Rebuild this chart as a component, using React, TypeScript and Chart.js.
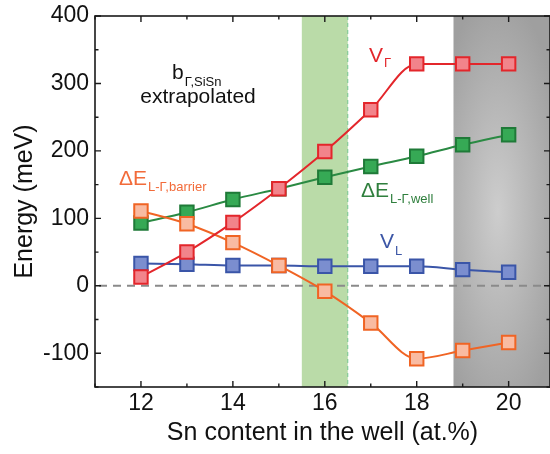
import React, { useEffect, useRef } from 'react';
import { Chart, registerables } from 'chart.js';

Chart.register(...registerables);

// ---- data ----
const snContent = [12, 13, 14, 15, 16, 17, 18, 19, 20];
const vGamma = [13, 50, 94, 144, 199, 261, 329, 329, 329];
const dEWell = [93, 109, 128, 144, 161, 177, 192, 209, 224];
const dEBarrier = [111, 92, 64, 30, -8, -55, -108, -96, -84];
const vL = [33, 32, 30, 30, 29, 29, 29, 24, 20];
const yTickValues = [-100, 0, 100, 200, 300, 400];
const yMinorValues = [-150, -50, 50, 150, 250, 350];
const xTickValues = [12, 14, 16, 18, 20];
const xMinorValues = [11, 13, 15, 17, 19];
const greenBand = [15.5, 16.5];
const grayBandStart = 18.8;

const FONT = "'Liberation Sans', Arial, Helvetica, sans-serif";

function drawSub(ctx: CanvasRenderingContext2D, x: number, y: number, main: string, sub: string, color: string, mainSize: number, subSize: number, dy: number) {
  ctx.fillStyle = color;
  ctx.textAlign = 'left';
  ctx.textBaseline = 'alphabetic';
  ctx.font = `${mainSize}px ${FONT}`;
  ctx.fillText(main, x, y);
  const w = ctx.measureText(main).width;
  ctx.font = `${subSize}px ${FONT}`;
  ctx.fillText(sub, x + w + 1, y + dy);
}

const decorPlugin = {
  id: 'decor',
  beforeDatasetsDraw(chart: any) {
    const { ctx, chartArea: a, scales } = chart;
    const x = scales.x, y = scales.y;
    ctx.save();
    // green band
    const g0 = x.getPixelForValue(greenBand[0]);
    const g1 = x.getPixelForValue(greenBand[1]);
    ctx.fillStyle = '#badba8';
    ctx.fillRect(g0, a.top, g1 - g0, a.bottom - a.top);
    ctx.strokeStyle = '#74c58f';
    ctx.lineWidth = 1;
    ctx.setLineDash([4, 3]);
    ctx.beginPath();
    ctx.moveTo(g1, a.top);
    ctx.lineTo(g1, a.bottom);
    ctx.stroke();
    ctx.setLineDash([]);
    // gray band with radial gradient
    const s = x.getPixelForValue(grayBandStart);
    ctx.save();
    ctx.beginPath();
    ctx.rect(s, a.top, a.right - s, a.bottom - a.top);
    ctx.clip();
    const cx = (s + a.right) / 2 - 4;
    const cy = (a.top + a.bottom) / 2 + 10;
    ctx.translate(cx, cy);
    ctx.scale(1, 3.2);
    const grad = ctx.createRadialGradient(0, 0, 0, 0, 0, 68);
    grad.addColorStop(0, '#cdcdcd');
    grad.addColorStop(1, '#9f9f9f');
    ctx.fillStyle = grad;
    ctx.fillRect(-300, -300, 600, 600);
    ctx.restore();
    // zero dashed line
    const y0 = y.getPixelForValue(0);
    ctx.strokeStyle = '#8a8a8a';
    ctx.lineWidth = 2;
    ctx.setLineDash([8, 6]);
    ctx.beginPath();
    ctx.moveTo(a.left + 4, y0);
    ctx.lineTo(a.right, y0);
    ctx.stroke();
    ctx.setLineDash([]);
    ctx.restore();
  },
  afterDatasetsDraw(chart: any) {
    const { ctx, chartArea: a, scales } = chart;
    const x = scales.x, y = scales.y;
    ctx.save();
    // frame
    ctx.strokeStyle = '#1a1a1a';
    ctx.lineWidth = 1.6;
    ctx.strokeRect(a.left, a.top, a.right - a.left, a.bottom - a.top);
    ctx.lineWidth = 1.4;
    ctx.beginPath();
    const major = 6, minor = 3.5;
    yTickValues.forEach(v => {
      const py = y.getPixelForValue(v);
      ctx.moveTo(a.left, py); ctx.lineTo(a.left + major, py);
      ctx.moveTo(a.right, py); ctx.lineTo(a.right - major, py);
    });
    yMinorValues.forEach(v => {
      const py = y.getPixelForValue(v);
      ctx.moveTo(a.left, py); ctx.lineTo(a.left + minor, py);
      ctx.moveTo(a.right, py); ctx.lineTo(a.right - minor, py);
    });
    xTickValues.forEach(v => {
      const px = x.getPixelForValue(v);
      ctx.moveTo(px, a.bottom); ctx.lineTo(px, a.bottom - major);
      ctx.moveTo(px, a.top); ctx.lineTo(px, a.top + major);
    });
    xMinorValues.forEach(v => {
      const px = x.getPixelForValue(v);
      ctx.moveTo(px, a.bottom); ctx.lineTo(px, a.bottom - minor);
      ctx.moveTo(px, a.top); ctx.lineTo(px, a.top + minor);
    });
    ctx.stroke();

    // annotations
    drawSub(ctx, 172, 79, 'b', 'Γ,SiSn', '#111111', 21, 13, 7);
    ctx.fillStyle = '#111111';
    ctx.font = `21px ${FONT}`;
    ctx.textAlign = 'center';
    ctx.fillText('extrapolated', 198, 103);
    drawSub(ctx, 369, 62, 'V', 'Γ', '#e3262b', 21, 13, 5);
    drawSub(ctx, 361, 197, 'ΔE', 'L-Γ,well', '#2f7f3d', 21, 13, 6);
    drawSub(ctx, 380, 248, 'V', 'L', '#3c56a6', 21, 13, 7);
    drawSub(ctx, 119, 185, 'ΔE', 'L-Γ,barrier', '#f26b3a', 21, 13, 6);
    ctx.restore();
  },
};

function mk(values: number[]) {
  return snContent.map((v, i) => ({ x: v, y: values[i] }));
}

export default function App() {
  const ref = useRef<HTMLCanvasElement>(null);
  useEffect(() => {
    if (!ref.current) return;
    const common = {
      pointStyle: 'rect',
      pointRadius: 9.5,
      pointBorderWidth: 2,
      borderWidth: 2,
      cubicInterpolationMode: 'monotone',
    };
    const chart = new Chart(ref.current, {
      type: 'line',
      data: {
        datasets: [
          { ...common, label: 'V_Γ', data: mk(vGamma), borderColor: '#e3262b', pointBorderColor: '#e3262b', pointBackgroundColor: '#f2848b' },
          { ...common, label: 'ΔE_barrier', data: mk(dEBarrier), borderColor: '#f06424', pointBorderColor: '#f06424', pointBackgroundColor: '#f9bba2' },
          { ...common, label: 'ΔE_well', data: mk(dEWell), borderColor: '#2a8a43', pointBorderColor: '#1f7a38', pointBackgroundColor: '#36a955' },
          { ...common, label: 'V_L', data: mk(vL), borderColor: '#3a55a8', pointBorderColor: '#3a55a8', pointBackgroundColor: '#7b8ecf' },
        ] as any,
      },
      options: {
        animation: false,
        responsive: false,
        maintainAspectRatio: false,
        layout: { autoPadding: false, padding: { top: 16, right: 0, left: 0, bottom: 0 } },
        plugins: { legend: { display: false }, tooltip: { enabled: false } },
        scales: {
          x: {
            type: 'linear',
            min: 11,
            max: 20.9,
            afterBuildTicks: (s: any) => { s.ticks = xTickValues.map(v => ({ value: v })); },
            afterFit: (s: any) => { s.height = 67; s.paddingLeft = 0; s.paddingRight = 0; },
            grid: { display: false, drawTicks: false },
            border: { display: false },
            ticks: { font: { size: 23, family: FONT }, color: '#111', padding: 3, maxRotation: 0, autoSkip: false },
            title: { display: true, text: 'Sn content in the well (at.%)', font: { size: 25, family: FONT }, color: '#111', padding: { top: 0, bottom: 6 } },
          },
          y: {
            type: 'linear',
            min: -150,
            max: 400,
            afterBuildTicks: (s: any) => { s.ticks = yTickValues.map(v => ({ value: v })); },
            afterFit: (s: any) => { s.width = 95; s.paddingTop = 0; s.paddingBottom = 0; },
            grid: { display: false, drawTicks: false },
            border: { display: false },
            ticks: { font: { size: 23, family: FONT }, color: '#111', padding: 6, autoSkip: false },
            title: { display: true, text: 'Energy (meV)', font: { size: 25, family: FONT }, color: '#111', padding: { top: 10, bottom: 0 } },
          },
        },
      } as any,
      plugins: [decorPlugin],
    });
    return () => chart.destroy();
  }, []);
  return (
    <div style={{ position: 'absolute', left: 0, top: 0, width: 550, height: 454, background: '#fff' }}>
      <canvas ref={ref} width={550} height={454} style={{ display: 'block' }} />
    </div>
  );
}
